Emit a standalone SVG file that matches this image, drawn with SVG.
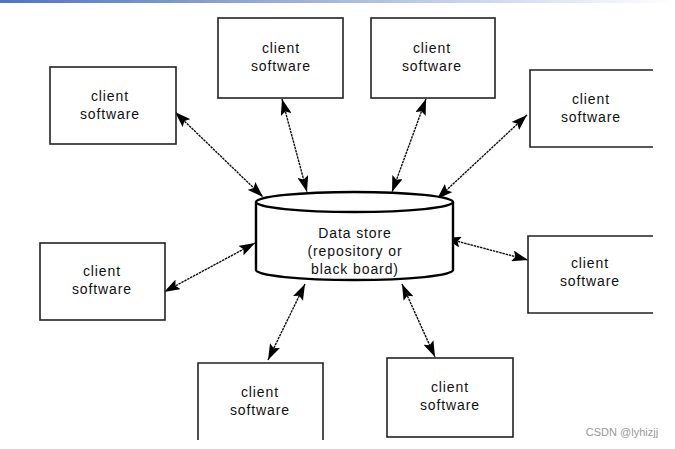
<svg xmlns="http://www.w3.org/2000/svg" width="675" height="449" viewBox="0 0 675 449">
<defs>
<linearGradient id="bar" x1="0" y1="0" x2="1" y2="0">
<stop offset="0" stop-color="#4f74c2"/>
<stop offset="0.5" stop-color="#a9b9dc"/>
<stop offset="1" stop-color="#ffffff"/>
</linearGradient>
<marker id="ah" viewBox="0 0 16 11" refX="16" refY="5.5" markerWidth="16" markerHeight="11" markerUnits="userSpaceOnUse" orient="auto-start-reverse">
<path d="M0,0 L16,5.5 L0,11 L3,5.5 Z" fill="#000"/>
</marker>
<style>
.box{fill:#fff;stroke:#222;stroke-width:1.6}
.t{font-family:"Liberation Sans",Arial,sans-serif;font-size:14px;letter-spacing:0.9px;fill:#111;text-anchor:middle}
.c{fill:none;stroke:#111;stroke-width:1.4;stroke-dasharray:2.5 0.8;marker-start:url(#ah);marker-end:url(#ah)}
.cyl{fill:#fff;stroke:#000;stroke-width:2.4}
</style>
</defs>
<rect x="0" y="0" width="675" height="449" fill="#fff"/>
<rect x="0" y="0" width="675" height="3" fill="url(#bar)"/>

<g id="connectors">
<line class="c" x1="175" y1="112" x2="263" y2="197"/>
<line class="c" x1="282" y1="99" x2="307" y2="192"/>
<line class="c" x1="426" y1="99" x2="392" y2="192"/>
<line class="c" x1="527" y1="115" x2="437" y2="199"/>
<line class="c" x1="164" y1="292" x2="255" y2="243"/>
<line class="c" x1="445" y1="238" x2="528" y2="260"/>
<line class="c" x1="268" y1="360" x2="305" y2="284"/>
<line class="c" x1="402" y1="284" x2="435" y2="357"/>
</g>

<g id="datastore">
<path class="cyl" d="M256,202 L256,270 A98.5,10 0 0 0 453,270 L453,202"/>
<ellipse class="cyl" cx="354.5" cy="202" rx="98.5" ry="10"/>
<text class="t" x="355" y="238">Data store</text>
<text class="t" x="355" y="256">(repository or</text>
<text class="t" x="355" y="274">black board)</text>
</g>

<g id="client1">
<rect class="box" x="50" y="67" width="126" height="77"/>
<text class="t" x="110" y="101">client</text>
<text class="t" x="110" y="119">software</text>
</g>
<g id="client2">
<rect class="box" x="218" y="18" width="125" height="80"/>
<text class="t" x="281" y="53">client</text>
<text class="t" x="281" y="71">software</text>
</g>
<g id="client3">
<rect class="box" x="371" y="18" width="124" height="80"/>
<text class="t" x="432" y="53">client</text>
<text class="t" x="432" y="71">software</text>
</g>
<g id="client4">
<path class="box" d="M653,70 L530,70 L530,147 L653,147"/>
<text class="t" x="591" y="104">client</text>
<text class="t" x="591" y="122">software</text>
</g>
<g id="client5">
<rect class="box" x="40" y="243" width="125" height="77"/>
<text class="t" x="102" y="276">client</text>
<text class="t" x="102" y="294">software</text>
</g>
<g id="client6">
<path class="box" d="M653,236 L528,236 L528,313 L653,313"/>
<text class="t" x="590" y="268">client</text>
<text class="t" x="590" y="286">software</text>
</g>
<g id="client7">
<path class="box" d="M198,440 L198,363 L323,363 L323,440"/>
<text class="t" x="260" y="397">client</text>
<text class="t" x="260" y="415">software</text>
</g>
<g id="client8">
<rect class="box" x="387" y="358" width="126" height="79"/>
<text class="t" x="450" y="392">client</text>
<text class="t" x="450" y="410">software</text>
</g>
<text x="622" y="436" font-family="'Liberation Sans',Arial,sans-serif" font-size="11" fill="#999" text-anchor="middle">CSDN @lyhizjj</text>
</svg>
